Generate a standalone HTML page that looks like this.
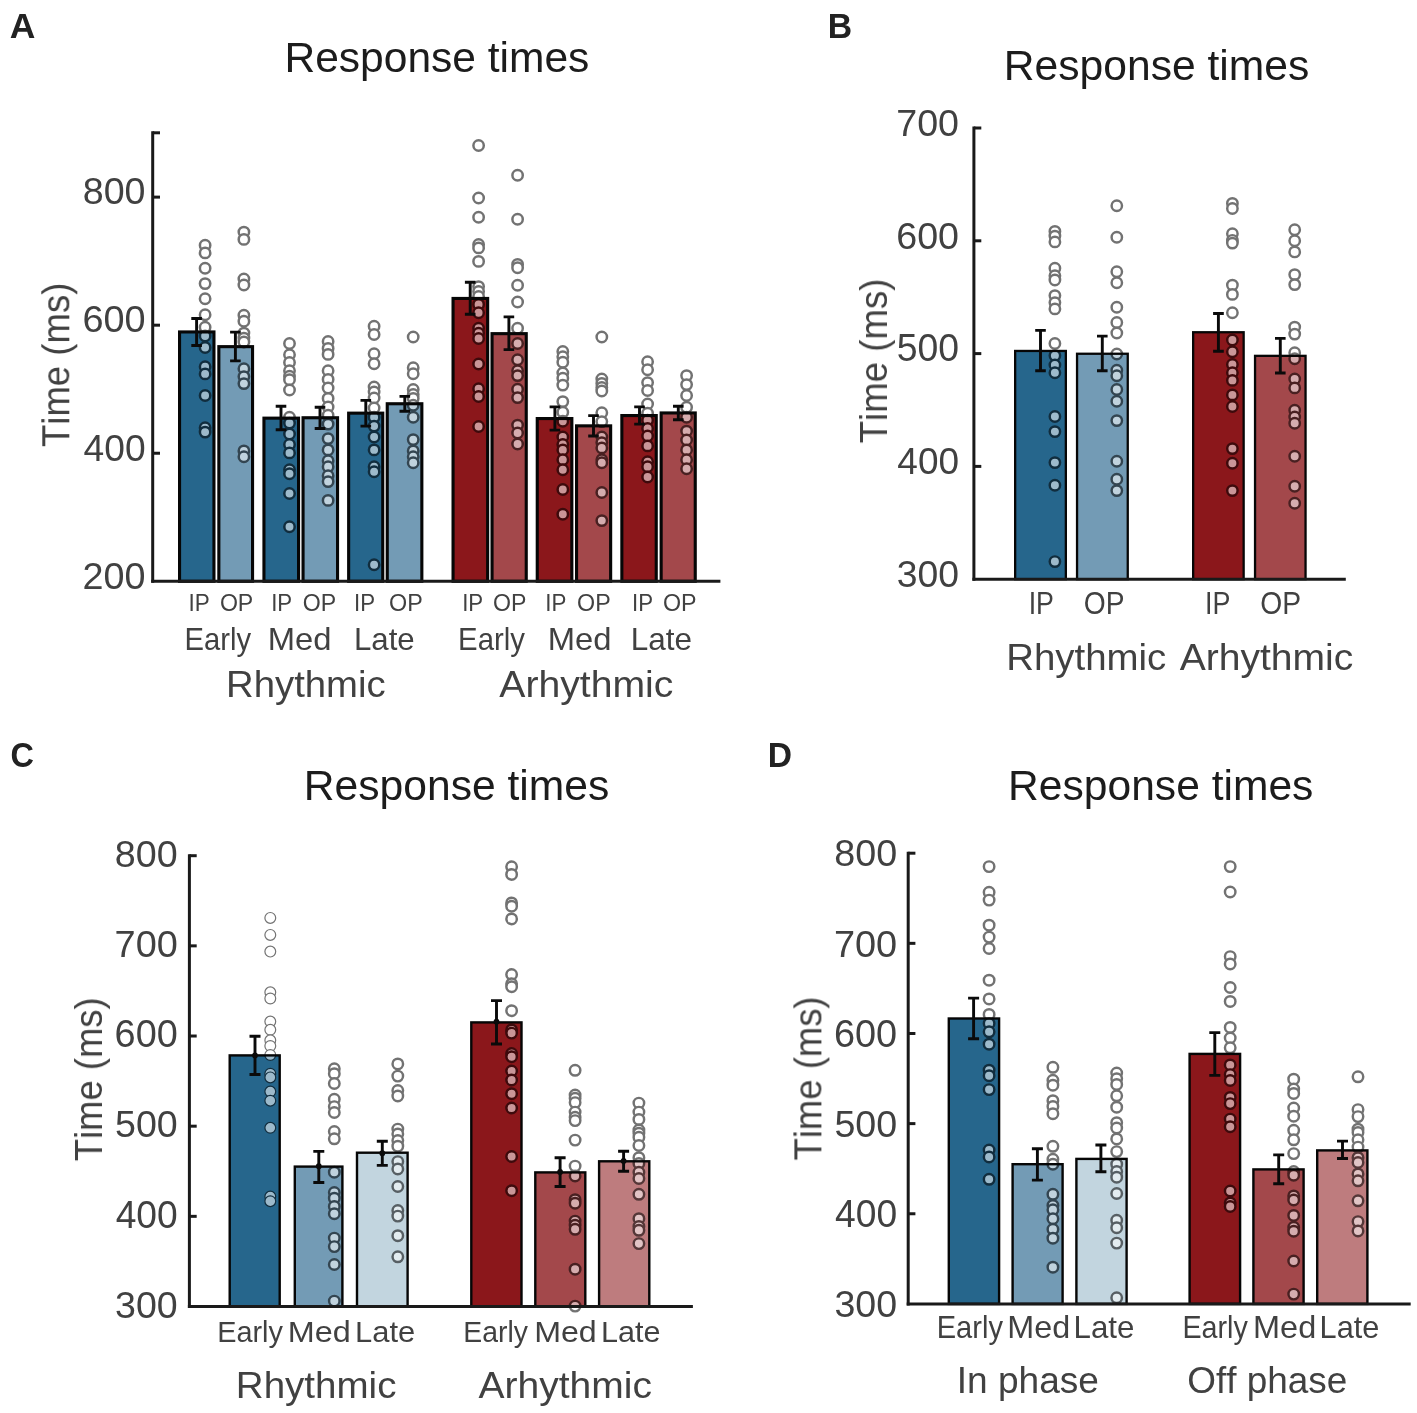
<!DOCTYPE html>
<html><head><meta charset="utf-8"><title>Response times</title>
<style>
html,body{margin:0;padding:0;background:#fff;}
svg{display:block;font-family:"Liberation Sans",sans-serif;font-kerning:none;}
</style></head>
<body>
<svg width="1417" height="1413" viewBox="0 0 1417 1413">
<rect width="1417" height="1413" fill="#fff"/>
<rect x="179.55" y="331.95" width="34.40" height="249.35" fill="#26668c"/>
<rect x="218.85" y="346.65" width="33.70" height="234.65" fill="#739bb5"/>
<rect x="263.95" y="418.15" width="34.60" height="163.15" fill="#26668c"/>
<rect x="303.05" y="417.75" width="34.50" height="163.55" fill="#739bb5"/>
<rect x="348.65" y="413.15" width="34.10" height="168.15" fill="#26668c"/>
<rect x="387.25" y="403.75" width="34.60" height="177.55" fill="#739bb5"/>
<rect x="453.05" y="298.45" width="34.60" height="282.85" fill="#8b171b"/>
<rect x="492.05" y="333.65" width="34.20" height="247.65" fill="#a3484b"/>
<rect x="537.25" y="418.55" width="34.60" height="162.75" fill="#8b171b"/>
<rect x="576.55" y="425.85" width="34.10" height="155.45" fill="#a3484b"/>
<rect x="621.85" y="415.55" width="34.40" height="165.75" fill="#8b171b"/>
<rect x="661.15" y="412.95" width="34.10" height="168.35" fill="#a3484b"/>
<g fill="#fff" stroke="#000" stroke-width="2.5" opacity="0.55"><circle cx="205.1" cy="245.3" r="5.2"/><circle cx="205.1" cy="252.9" r="5.2"/><circle cx="205.1" cy="268.3" r="5.2"/><circle cx="205.1" cy="283.6" r="5.2"/><circle cx="205.1" cy="298.8" r="5.2"/><circle cx="205.1" cy="314.7" r="5.2"/><circle cx="205.1" cy="327.2" r="5.2"/><circle cx="205.1" cy="336.0" r="5.2"/><circle cx="205.1" cy="347.5" r="5.2"/><circle cx="205.1" cy="366.7" r="5.2"/><circle cx="205.1" cy="373.9" r="5.2"/><circle cx="205.1" cy="395.5" r="5.2"/><circle cx="205.1" cy="427.7" r="5.2"/><circle cx="205.1" cy="432.1" r="5.2"/></g>
<g fill="#fff" stroke="#000" stroke-width="2.5" opacity="0.55"><circle cx="243.9" cy="232.1" r="5.2"/><circle cx="243.9" cy="239.4" r="5.2"/><circle cx="243.9" cy="279.0" r="5.2"/><circle cx="243.9" cy="285.0" r="5.2"/><circle cx="243.9" cy="315.3" r="5.2"/><circle cx="243.9" cy="321.2" r="5.2"/><circle cx="243.9" cy="333.1" r="5.2"/><circle cx="243.9" cy="338.1" r="5.2"/><circle cx="243.9" cy="342.0" r="5.2"/><circle cx="243.9" cy="368.7" r="5.2"/><circle cx="243.9" cy="376.6" r="5.2"/><circle cx="243.9" cy="383.6" r="5.2"/><circle cx="243.9" cy="450.9" r="5.2"/><circle cx="243.9" cy="456.8" r="5.2"/></g>
<g fill="#fff" stroke="#000" stroke-width="2.5" opacity="0.55"><circle cx="289.5" cy="343.5" r="5.2"/><circle cx="289.5" cy="354.8" r="5.2"/><circle cx="289.5" cy="362.5" r="5.2"/><circle cx="289.5" cy="370.7" r="5.2"/><circle cx="289.5" cy="376.2" r="5.2"/><circle cx="289.5" cy="379.7" r="5.2"/><circle cx="289.5" cy="390.0" r="5.2"/><circle cx="289.5" cy="417.2" r="5.2"/><circle cx="289.5" cy="423.1" r="5.2"/><circle cx="289.5" cy="434.0" r="5.2"/><circle cx="289.5" cy="444.5" r="5.2"/><circle cx="289.5" cy="452.9" r="5.2"/><circle cx="289.5" cy="469.7" r="5.2"/><circle cx="289.5" cy="473.7" r="5.2"/><circle cx="289.5" cy="493.5" r="5.2"/><circle cx="289.5" cy="526.8" r="5.2"/></g>
<g fill="#fff" stroke="#000" stroke-width="2.5" opacity="0.55"><circle cx="328.1" cy="341.5" r="5.2"/><circle cx="328.1" cy="348.4" r="5.2"/><circle cx="328.1" cy="354.4" r="5.2"/><circle cx="328.1" cy="370.7" r="5.2"/><circle cx="328.1" cy="379.4" r="5.2"/><circle cx="328.1" cy="388.0" r="5.2"/><circle cx="328.1" cy="398.4" r="5.2"/><circle cx="328.1" cy="407.0" r="5.2"/><circle cx="328.1" cy="415.2" r="5.2"/><circle cx="328.1" cy="424.1" r="5.2"/><circle cx="328.1" cy="438.6" r="5.2"/><circle cx="328.1" cy="449.9" r="5.2"/><circle cx="328.1" cy="460.8" r="5.2"/><circle cx="328.1" cy="466.7" r="5.2"/><circle cx="328.1" cy="475.7" r="5.2"/><circle cx="328.1" cy="481.6" r="5.2"/><circle cx="328.1" cy="500.4" r="5.2"/></g>
<g fill="#fff" stroke="#000" stroke-width="2.5" opacity="0.55"><circle cx="374.1" cy="326.2" r="5.2"/><circle cx="374.1" cy="334.5" r="5.2"/><circle cx="374.1" cy="353.8" r="5.2"/><circle cx="374.1" cy="363.7" r="5.2"/><circle cx="374.1" cy="387.0" r="5.2"/><circle cx="374.1" cy="392.0" r="5.2"/><circle cx="374.1" cy="398.0" r="5.2"/><circle cx="374.1" cy="408.0" r="5.2"/><circle cx="374.1" cy="417.2" r="5.2"/><circle cx="374.1" cy="426.1" r="5.2"/><circle cx="374.1" cy="437.0" r="5.2"/><circle cx="374.1" cy="449.9" r="5.2"/><circle cx="374.1" cy="466.7" r="5.2"/><circle cx="374.1" cy="471.7" r="5.2"/><circle cx="374.1" cy="564.8" r="5.2"/></g>
<g fill="#fff" stroke="#000" stroke-width="2.5" opacity="0.55"><circle cx="413.2" cy="337.0" r="5.2"/><circle cx="413.2" cy="367.7" r="5.2"/><circle cx="413.2" cy="373.7" r="5.2"/><circle cx="413.2" cy="389.5" r="5.2"/><circle cx="413.2" cy="394.5" r="5.2"/><circle cx="413.2" cy="398.4" r="5.2"/><circle cx="413.2" cy="405.3" r="5.2"/><circle cx="413.2" cy="417.2" r="5.2"/><circle cx="413.2" cy="439.6" r="5.2"/><circle cx="413.2" cy="450.9" r="5.2"/><circle cx="413.2" cy="456.8" r="5.2"/><circle cx="413.2" cy="462.8" r="5.2"/></g>
<g fill="#fff" stroke="#000" stroke-width="2.5" opacity="0.55"><circle cx="478.6" cy="145.5" r="5.2"/><circle cx="478.6" cy="198.0" r="5.2"/><circle cx="478.6" cy="217.2" r="5.2"/><circle cx="478.6" cy="244.5" r="5.2"/><circle cx="478.6" cy="247.9" r="5.2"/><circle cx="478.6" cy="261.4" r="5.2"/><circle cx="478.6" cy="286.6" r="5.2"/><circle cx="478.6" cy="291.5" r="5.2"/><circle cx="478.6" cy="296.5" r="5.2"/><circle cx="478.6" cy="304.4" r="5.2"/><circle cx="478.6" cy="312.7" r="5.2"/><circle cx="478.6" cy="328.2" r="5.2"/><circle cx="478.6" cy="333.3" r="5.2"/><circle cx="478.6" cy="338.5" r="5.2"/><circle cx="478.6" cy="364.0" r="5.2"/><circle cx="478.6" cy="388.8" r="5.2"/><circle cx="478.6" cy="396.5" r="5.2"/><circle cx="478.6" cy="426.5" r="5.2"/></g>
<g fill="#fff" stroke="#000" stroke-width="2.5" opacity="0.55"><circle cx="517.6" cy="175.2" r="5.2"/><circle cx="517.6" cy="219.2" r="5.2"/><circle cx="517.6" cy="264.4" r="5.2"/><circle cx="517.6" cy="267.7" r="5.2"/><circle cx="517.6" cy="285.2" r="5.2"/><circle cx="517.6" cy="302.0" r="5.2"/><circle cx="517.6" cy="328.2" r="5.2"/><circle cx="517.6" cy="343.5" r="5.2"/><circle cx="517.6" cy="359.8" r="5.2"/><circle cx="517.6" cy="370.7" r="5.2"/><circle cx="517.6" cy="375.6" r="5.2"/><circle cx="517.6" cy="389.2" r="5.2"/><circle cx="517.6" cy="397.6" r="5.2"/><circle cx="517.6" cy="425.1" r="5.2"/><circle cx="517.6" cy="433.0" r="5.2"/><circle cx="517.6" cy="444.0" r="5.2"/></g>
<g fill="#fff" stroke="#000" stroke-width="2.5" opacity="0.55"><circle cx="562.8" cy="351.5" r="5.2"/><circle cx="562.8" cy="356.8" r="5.2"/><circle cx="562.8" cy="362.2" r="5.2"/><circle cx="562.8" cy="373.0" r="5.2"/><circle cx="562.8" cy="378.2" r="5.2"/><circle cx="562.8" cy="385.1" r="5.2"/><circle cx="562.8" cy="401.6" r="5.2"/><circle cx="562.8" cy="412.2" r="5.2"/><circle cx="562.8" cy="421.2" r="5.2"/><circle cx="562.8" cy="437.0" r="5.2"/><circle cx="562.8" cy="444.5" r="5.2"/><circle cx="562.8" cy="449.9" r="5.2"/><circle cx="562.8" cy="459.8" r="5.2"/><circle cx="562.8" cy="469.7" r="5.2"/><circle cx="562.8" cy="489.5" r="5.2"/><circle cx="562.8" cy="514.3" r="5.2"/></g>
<g fill="#fff" stroke="#000" stroke-width="2.5" opacity="0.55"><circle cx="601.8" cy="337.0" r="5.2"/><circle cx="601.8" cy="379.0" r="5.2"/><circle cx="601.8" cy="383.4" r="5.2"/><circle cx="601.8" cy="387.5" r="5.2"/><circle cx="601.8" cy="391.0" r="5.2"/><circle cx="601.8" cy="412.8" r="5.2"/><circle cx="601.8" cy="421.6" r="5.2"/><circle cx="601.8" cy="437.0" r="5.2"/><circle cx="601.8" cy="442.6" r="5.2"/><circle cx="601.8" cy="447.9" r="5.2"/><circle cx="601.8" cy="459.8" r="5.2"/><circle cx="601.8" cy="462.8" r="5.2"/><circle cx="601.8" cy="492.5" r="5.2"/><circle cx="601.8" cy="520.6" r="5.2"/></g>
<g fill="#fff" stroke="#000" stroke-width="2.5" opacity="0.55"><circle cx="647.6" cy="361.8" r="5.2"/><circle cx="647.6" cy="369.7" r="5.2"/><circle cx="647.6" cy="382.6" r="5.2"/><circle cx="647.6" cy="390.5" r="5.2"/><circle cx="647.6" cy="404.0" r="5.2"/><circle cx="647.6" cy="413.2" r="5.2"/><circle cx="647.6" cy="420.2" r="5.2"/><circle cx="647.6" cy="428.5" r="5.2"/><circle cx="647.6" cy="436.0" r="5.2"/><circle cx="647.6" cy="445.9" r="5.2"/><circle cx="647.6" cy="461.8" r="5.2"/><circle cx="647.6" cy="466.7" r="5.2"/><circle cx="647.6" cy="477.0" r="5.2"/></g>
<g fill="#fff" stroke="#000" stroke-width="2.5" opacity="0.55"><circle cx="686.6" cy="375.6" r="5.2"/><circle cx="686.6" cy="384.6" r="5.2"/><circle cx="686.6" cy="395.5" r="5.2"/><circle cx="686.6" cy="407.3" r="5.2"/><circle cx="686.6" cy="417.2" r="5.2"/><circle cx="686.6" cy="431.1" r="5.2"/><circle cx="686.6" cy="440.0" r="5.2"/><circle cx="686.6" cy="449.9" r="5.2"/><circle cx="686.6" cy="459.8" r="5.2"/><circle cx="686.6" cy="468.7" r="5.2"/></g>
<rect x="179.55" y="331.95" width="34.40" height="249.35" fill="none" stroke="#060606" stroke-width="3.1"/>
<rect x="218.85" y="346.65" width="33.70" height="234.65" fill="none" stroke="#060606" stroke-width="3.1"/>
<rect x="263.95" y="418.15" width="34.60" height="163.15" fill="none" stroke="#060606" stroke-width="3.1"/>
<rect x="303.05" y="417.75" width="34.50" height="163.55" fill="none" stroke="#060606" stroke-width="3.1"/>
<rect x="348.65" y="413.15" width="34.10" height="168.15" fill="none" stroke="#060606" stroke-width="3.1"/>
<rect x="387.25" y="403.75" width="34.60" height="177.55" fill="none" stroke="#060606" stroke-width="3.1"/>
<rect x="453.05" y="298.45" width="34.60" height="282.85" fill="none" stroke="#060606" stroke-width="3.1"/>
<rect x="492.05" y="333.65" width="34.20" height="247.65" fill="none" stroke="#060606" stroke-width="3.1"/>
<rect x="537.25" y="418.55" width="34.60" height="162.75" fill="none" stroke="#060606" stroke-width="3.1"/>
<rect x="576.55" y="425.85" width="34.10" height="155.45" fill="none" stroke="#060606" stroke-width="3.1"/>
<rect x="621.85" y="415.55" width="34.40" height="165.75" fill="none" stroke="#060606" stroke-width="3.1"/>
<rect x="661.15" y="412.95" width="34.10" height="168.35" fill="none" stroke="#060606" stroke-width="3.1"/>
<path d="M196.6 318.5V345.5M191.3 318.5H201.9M191.3 345.5H201.9" stroke="#0a0a0a" stroke-width="2.9" fill="none"/>
<path d="M235.4 332.1V360.9M230.1 332.1H240.7M230.1 360.9H240.7" stroke="#0a0a0a" stroke-width="2.9" fill="none"/>
<path d="M281.0 406.3V429.7M275.7 406.3H286.3M275.7 429.7H286.3" stroke="#0a0a0a" stroke-width="2.9" fill="none"/>
<path d="M320.0 407.3V428.5M314.7 407.3H325.3M314.7 428.5H325.3" stroke="#0a0a0a" stroke-width="2.9" fill="none"/>
<path d="M365.8 400.4V426.1M360.5 400.4H371.1M360.5 426.1H371.1" stroke="#0a0a0a" stroke-width="2.9" fill="none"/>
<path d="M404.8 396.4V411.3M399.5 396.4H410.1M399.5 411.3H410.1" stroke="#0a0a0a" stroke-width="2.9" fill="none"/>
<path d="M470.2 282.2V314.3M464.9 282.2H475.5M464.9 314.3H475.5" stroke="#0a0a0a" stroke-width="2.9" fill="none"/>
<path d="M508.9 316.9V349.6M503.6 316.9H514.2M503.6 349.6H514.2" stroke="#0a0a0a" stroke-width="2.9" fill="none"/>
<path d="M554.9 406.9V430.1M549.6 406.9H560.2M549.6 430.1H560.2" stroke="#0a0a0a" stroke-width="2.9" fill="none"/>
<path d="M593.5 415.6V436.0M588.2 415.6H598.8M588.2 436.0H598.8" stroke="#0a0a0a" stroke-width="2.9" fill="none"/>
<path d="M639.5 406.9V424.1M634.2 406.9H644.8M634.2 424.1H644.8" stroke="#0a0a0a" stroke-width="2.9" fill="none"/>
<path d="M678.3 406.3V419.8M673.0 406.3H683.6M673.0 419.8H683.6" stroke="#0a0a0a" stroke-width="2.9" fill="none"/>
<path d="M152.70 131.30L152.70 582.80" stroke="#1a1a1a" stroke-width="3.0" fill="none"/>
<path d="M151.20 581.30L720.40 581.30" stroke="#1a1a1a" stroke-width="3.0" fill="none"/>
<path d="M152.70 453.24L160.00 453.24" stroke="#1a1a1a" stroke-width="3.0" fill="none"/>
<path d="M152.70 325.18L160.00 325.18" stroke="#1a1a1a" stroke-width="3.0" fill="none"/>
<path d="M152.70 197.12L160.00 197.12" stroke="#1a1a1a" stroke-width="3.0" fill="none"/>
<path d="M152.70 132.80L160.00 132.80" stroke="#1a1a1a" stroke-width="3.0" fill="none"/>
<rect x="1015.15" y="350.95" width="50.70" height="228.25" fill="#26668c"/>
<rect x="1077.05" y="353.75" width="50.70" height="225.45" fill="#739bb5"/>
<rect x="1193.15" y="332.25" width="50.50" height="246.95" fill="#8b171b"/>
<rect x="1255.05" y="355.85" width="50.50" height="223.35" fill="#a3484b"/>
<g fill="#fff" stroke="#000" stroke-width="2.45" opacity="0.55"><circle cx="1054.9" cy="231.4" r="5.2"/><circle cx="1054.9" cy="236.1" r="5.2"/><circle cx="1054.9" cy="241.9" r="5.2"/><circle cx="1054.9" cy="268.3" r="5.2"/><circle cx="1054.9" cy="275.8" r="5.2"/><circle cx="1054.9" cy="280.0" r="5.2"/><circle cx="1054.9" cy="295.6" r="5.2"/><circle cx="1054.9" cy="302.6" r="5.2"/><circle cx="1054.9" cy="308.9" r="5.2"/><circle cx="1054.9" cy="343.5" r="5.2"/><circle cx="1054.9" cy="355.6" r="5.2"/><circle cx="1054.9" cy="365.0" r="5.2"/><circle cx="1054.9" cy="372.7" r="5.2"/><circle cx="1054.9" cy="416.5" r="5.2"/><circle cx="1054.9" cy="431.6" r="5.2"/><circle cx="1054.9" cy="462.6" r="5.2"/><circle cx="1054.9" cy="485.2" r="5.2"/><circle cx="1054.9" cy="561.6" r="5.2"/></g>
<g fill="#fff" stroke="#000" stroke-width="2.45" opacity="0.55"><circle cx="1116.8" cy="205.7" r="5.2"/><circle cx="1116.8" cy="237.2" r="5.2"/><circle cx="1116.8" cy="271.8" r="5.2"/><circle cx="1116.8" cy="282.8" r="5.2"/><circle cx="1116.8" cy="307.3" r="5.2"/><circle cx="1116.8" cy="322.5" r="5.2"/><circle cx="1116.8" cy="333.0" r="5.2"/><circle cx="1116.8" cy="354.0" r="5.2"/><circle cx="1116.8" cy="370.3" r="5.2"/><circle cx="1116.8" cy="375.7" r="5.2"/><circle cx="1116.8" cy="389.5" r="5.2"/><circle cx="1116.8" cy="401.2" r="5.2"/><circle cx="1116.8" cy="420.6" r="5.2"/><circle cx="1116.8" cy="461.2" r="5.2"/><circle cx="1116.8" cy="479.2" r="5.2"/><circle cx="1116.8" cy="490.6" r="5.2"/></g>
<g fill="#fff" stroke="#000" stroke-width="2.45" opacity="0.55"><circle cx="1232.4" cy="203.4" r="5.2"/><circle cx="1232.4" cy="208.5" r="5.2"/><circle cx="1232.4" cy="233.7" r="5.2"/><circle cx="1232.4" cy="240.3" r="5.2"/><circle cx="1232.4" cy="243.1" r="5.2"/><circle cx="1232.4" cy="285.1" r="5.2"/><circle cx="1232.4" cy="294.4" r="5.2"/><circle cx="1232.4" cy="312.7" r="5.2"/><circle cx="1232.4" cy="340.0" r="5.2"/><circle cx="1232.4" cy="351.7" r="5.2"/><circle cx="1232.4" cy="364.5" r="5.2"/><circle cx="1232.4" cy="372.7" r="5.2"/><circle cx="1232.4" cy="380.4" r="5.2"/><circle cx="1232.4" cy="394.9" r="5.2"/><circle cx="1232.4" cy="406.5" r="5.2"/><circle cx="1232.4" cy="448.6" r="5.2"/><circle cx="1232.4" cy="463.2" r="5.2"/><circle cx="1232.4" cy="490.6" r="5.2"/></g>
<g fill="#fff" stroke="#000" stroke-width="2.45" opacity="0.55"><circle cx="1294.7" cy="229.7" r="5.2"/><circle cx="1294.7" cy="240.7" r="5.2"/><circle cx="1294.7" cy="251.9" r="5.2"/><circle cx="1294.7" cy="274.6" r="5.2"/><circle cx="1294.7" cy="284.6" r="5.2"/><circle cx="1294.7" cy="327.1" r="5.2"/><circle cx="1294.7" cy="334.1" r="5.2"/><circle cx="1294.7" cy="352.8" r="5.2"/><circle cx="1294.7" cy="358.7" r="5.2"/><circle cx="1294.7" cy="379.0" r="5.2"/><circle cx="1294.7" cy="387.9" r="5.2"/><circle cx="1294.7" cy="410.2" r="5.2"/><circle cx="1294.7" cy="417.0" r="5.2"/><circle cx="1294.7" cy="423.2" r="5.2"/><circle cx="1294.7" cy="456.2" r="5.2"/><circle cx="1294.7" cy="486.2" r="5.2"/><circle cx="1294.7" cy="503.3" r="5.2"/></g>
<rect x="1015.15" y="350.95" width="50.70" height="228.25" fill="none" stroke="#060606" stroke-width="2.3"/>
<rect x="1077.05" y="353.75" width="50.70" height="225.45" fill="none" stroke="#060606" stroke-width="2.3"/>
<rect x="1193.15" y="332.25" width="50.50" height="246.95" fill="none" stroke="#060606" stroke-width="2.3"/>
<rect x="1255.05" y="355.85" width="50.50" height="223.35" fill="none" stroke="#060606" stroke-width="2.3"/>
<path d="M1040.5 330.4V370.7M1035.2 330.4H1045.8M1035.2 370.7H1045.8" stroke="#0a0a0a" stroke-width="2.9" fill="none"/>
<path d="M1102.3 336.1V370.7M1097.0 336.1H1107.6M1097.0 370.7H1107.6" stroke="#0a0a0a" stroke-width="2.9" fill="none"/>
<path d="M1218.4 313.5V351.3M1213.1 313.5H1223.8M1213.1 351.3H1223.8" stroke="#0a0a0a" stroke-width="2.9" fill="none"/>
<path d="M1280.3 338.4V373.0M1275.0 338.4H1285.6M1275.0 373.0H1285.6" stroke="#0a0a0a" stroke-width="2.9" fill="none"/>
<path d="M973.90 126.50L973.90 580.70" stroke="#1a1a1a" stroke-width="3.0" fill="none"/>
<path d="M972.40 579.20L1345.80 579.20" stroke="#1a1a1a" stroke-width="3.0" fill="none"/>
<path d="M973.90 466.40L981.30 466.40" stroke="#1a1a1a" stroke-width="3.0" fill="none"/>
<path d="M973.90 353.60L981.30 353.60" stroke="#1a1a1a" stroke-width="3.0" fill="none"/>
<path d="M973.90 240.80L981.30 240.80" stroke="#1a1a1a" stroke-width="3.0" fill="none"/>
<path d="M973.90 128.00L981.30 128.00" stroke="#1a1a1a" stroke-width="3.0" fill="none"/>
<rect x="229.70" y="1055.40" width="50.00" height="251.10" fill="#26668c"/>
<rect x="294.80" y="1166.60" width="47.60" height="139.90" fill="#739bb5"/>
<rect x="357.00" y="1152.70" width="50.60" height="153.80" fill="#c2d5df"/>
<rect x="471.30" y="1022.40" width="50.20" height="284.10" fill="#8b171b"/>
<rect x="535.30" y="1172.40" width="50.00" height="134.10" fill="#a3484b"/>
<rect x="599.10" y="1161.30" width="50.20" height="145.20" fill="#be7c7e"/>
<g fill="#fff" stroke="#000" stroke-width="1.2" opacity="0.55"><circle cx="270.3" cy="917.9" r="5.4"/><circle cx="270.3" cy="934.9" r="5.4"/><circle cx="270.3" cy="951.6" r="5.4"/><circle cx="270.3" cy="992.3" r="5.4"/><circle cx="270.3" cy="998.5" r="5.4"/><circle cx="270.3" cy="1021.6" r="5.4"/><circle cx="270.3" cy="1029.8" r="5.4"/><circle cx="270.3" cy="1040.3" r="5.4"/><circle cx="270.3" cy="1046.0" r="5.4"/><circle cx="270.3" cy="1055.0" r="5.4"/><circle cx="270.3" cy="1073.7" r="5.4"/><circle cx="270.3" cy="1077.4" r="5.4"/><circle cx="270.3" cy="1091.6" r="5.4"/><circle cx="270.3" cy="1100.7" r="5.4"/><circle cx="270.3" cy="1127.8" r="5.4"/><circle cx="270.3" cy="1196.6" r="5.4"/><circle cx="270.3" cy="1201.2" r="5.4"/></g>
<g fill="#fff" stroke="#000" stroke-width="2.45" opacity="0.55"><circle cx="334.3" cy="1068.8" r="5.25"/><circle cx="334.3" cy="1073.7" r="5.25"/><circle cx="334.3" cy="1083.5" r="5.25"/><circle cx="334.3" cy="1099.3" r="5.25"/><circle cx="334.3" cy="1106.6" r="5.25"/><circle cx="334.3" cy="1112.5" r="5.25"/><circle cx="334.3" cy="1131.5" r="5.25"/><circle cx="334.3" cy="1138.8" r="5.25"/><circle cx="334.3" cy="1172.2" r="5.25"/><circle cx="334.3" cy="1192.5" r="5.25"/><circle cx="334.3" cy="1198.2" r="5.25"/><circle cx="334.3" cy="1206.4" r="5.25"/><circle cx="334.3" cy="1213.7" r="5.25"/><circle cx="334.3" cy="1238.1" r="5.25"/><circle cx="334.3" cy="1246.6" r="5.25"/><circle cx="334.3" cy="1264.5" r="5.25"/><circle cx="334.3" cy="1301.1" r="5.25"/></g>
<g fill="#fff" stroke="#000" stroke-width="2.45" opacity="0.55"><circle cx="397.8" cy="1063.9" r="5.25"/><circle cx="397.8" cy="1076.1" r="5.25"/><circle cx="397.8" cy="1090.5" r="5.25"/><circle cx="397.8" cy="1096.0" r="5.25"/><circle cx="397.8" cy="1129.1" r="5.25"/><circle cx="397.8" cy="1133.9" r="5.25"/><circle cx="397.8" cy="1140.5" r="5.25"/><circle cx="397.8" cy="1146.2" r="5.25"/><circle cx="397.8" cy="1161.6" r="5.25"/><circle cx="397.8" cy="1168.9" r="5.25"/><circle cx="397.8" cy="1186.5" r="5.25"/><circle cx="397.8" cy="1210.5" r="5.25"/><circle cx="397.8" cy="1216.1" r="5.25"/><circle cx="397.8" cy="1235.7" r="5.25"/><circle cx="397.8" cy="1256.8" r="5.25"/></g>
<g fill="#fff" stroke="#000" stroke-width="2.45" opacity="0.55"><circle cx="511.6" cy="866.8" r="5.25"/><circle cx="511.6" cy="874.4" r="5.25"/><circle cx="511.6" cy="902.9" r="5.25"/><circle cx="511.6" cy="906.2" r="5.25"/><circle cx="511.6" cy="918.9" r="5.25"/><circle cx="511.6" cy="974.5" r="5.25"/><circle cx="511.6" cy="983.8" r="5.25"/><circle cx="511.6" cy="986.7" r="5.25"/><circle cx="511.6" cy="1010.7" r="5.25"/><circle cx="511.6" cy="1029.9" r="5.25"/><circle cx="511.6" cy="1033.1" r="5.25"/><circle cx="511.6" cy="1053.5" r="5.25"/><circle cx="511.6" cy="1056.7" r="5.25"/><circle cx="511.6" cy="1071.0" r="5.25"/><circle cx="511.6" cy="1080.0" r="5.25"/><circle cx="511.6" cy="1093.7" r="5.25"/><circle cx="511.6" cy="1108.0" r="5.25"/><circle cx="511.6" cy="1156.5" r="5.25"/><circle cx="511.6" cy="1190.7" r="5.25"/></g>
<g fill="#fff" stroke="#000" stroke-width="2.45" opacity="0.55"><circle cx="575.1" cy="1070.3" r="5.25"/><circle cx="575.1" cy="1095.0" r="5.25"/><circle cx="575.1" cy="1098.3" r="5.25"/><circle cx="575.1" cy="1102.6" r="5.25"/><circle cx="575.1" cy="1112.1" r="5.25"/><circle cx="575.1" cy="1117.3" r="5.25"/><circle cx="575.1" cy="1120.6" r="5.25"/><circle cx="575.1" cy="1140.1" r="5.25"/><circle cx="575.1" cy="1166.1" r="5.25"/><circle cx="575.1" cy="1175.9" r="5.25"/><circle cx="575.1" cy="1199.7" r="5.25"/><circle cx="575.1" cy="1203.2" r="5.25"/><circle cx="575.1" cy="1221.1" r="5.25"/><circle cx="575.1" cy="1225.2" r="5.25"/><circle cx="575.1" cy="1229.3" r="5.25"/><circle cx="575.1" cy="1269.2" r="5.25"/><circle cx="575.1" cy="1306.1" r="5.25"/></g>
<g fill="#fff" stroke="#000" stroke-width="2.45" opacity="0.55"><circle cx="638.9" cy="1103.1" r="5.25"/><circle cx="638.9" cy="1112.1" r="5.25"/><circle cx="638.9" cy="1119.4" r="5.25"/><circle cx="638.9" cy="1130.0" r="5.25"/><circle cx="638.9" cy="1133.2" r="5.25"/><circle cx="638.9" cy="1137.3" r="5.25"/><circle cx="638.9" cy="1145.5" r="5.25"/><circle cx="638.9" cy="1157.7" r="5.25"/><circle cx="638.9" cy="1163.4" r="5.25"/><circle cx="638.9" cy="1172.3" r="5.25"/><circle cx="638.9" cy="1178.5" r="5.25"/><circle cx="638.9" cy="1194.3" r="5.25"/><circle cx="638.9" cy="1218.7" r="5.25"/><circle cx="638.9" cy="1226.4" r="5.25"/><circle cx="638.9" cy="1230.3" r="5.25"/><circle cx="638.9" cy="1243.6" r="5.25"/></g>
<rect x="229.70" y="1055.40" width="50.00" height="251.10" fill="none" stroke="#060606" stroke-width="2.4"/>
<rect x="294.80" y="1166.60" width="47.60" height="139.90" fill="none" stroke="#060606" stroke-width="2.4"/>
<rect x="357.00" y="1152.70" width="50.60" height="153.80" fill="none" stroke="#060606" stroke-width="2.4"/>
<rect x="471.30" y="1022.40" width="50.20" height="284.10" fill="none" stroke="#060606" stroke-width="2.4"/>
<rect x="535.30" y="1172.40" width="50.00" height="134.10" fill="none" stroke="#060606" stroke-width="2.4"/>
<rect x="599.10" y="1161.30" width="50.20" height="145.20" fill="none" stroke="#060606" stroke-width="2.4"/>
<path d="M255.0 1036.3V1074.5M249.5 1036.3H260.5M249.5 1074.5H260.5" stroke="#0a0a0a" stroke-width="2.9" fill="none"/>
<circle cx="255.0" cy="1055.5" r="2.9" fill="#0a0a0a"/>
<path d="M318.8 1151.4V1182.5M313.3 1151.4H324.3M313.3 1182.5H324.3" stroke="#0a0a0a" stroke-width="2.9" fill="none"/>
<circle cx="318.8" cy="1166.2" r="2.9" fill="#0a0a0a"/>
<path d="M382.3 1141.3V1165.4M376.8 1141.3H387.8M376.8 1165.4H387.8" stroke="#0a0a0a" stroke-width="2.9" fill="none"/>
<circle cx="382.3" cy="1153.2" r="2.9" fill="#0a0a0a"/>
<path d="M496.5 1000.6V1044.0M491.0 1000.6H502.0M491.0 1044.0H502.0" stroke="#0a0a0a" stroke-width="2.9" fill="none"/>
<circle cx="496.5" cy="1021.7" r="2.9" fill="#0a0a0a"/>
<path d="M560.1 1157.7V1186.5M554.6 1157.7H565.6M554.6 1186.5H565.6" stroke="#0a0a0a" stroke-width="2.9" fill="none"/>
<circle cx="560.1" cy="1172.0" r="2.9" fill="#0a0a0a"/>
<path d="M623.6 1151.2V1171.2M618.1 1151.2H629.1M618.1 1171.2H629.1" stroke="#0a0a0a" stroke-width="2.9" fill="none"/>
<circle cx="623.6" cy="1160.9" r="2.9" fill="#0a0a0a"/>
<path d="M189.40 854.20L189.40 1308.00" stroke="#1a1a1a" stroke-width="3.0" fill="none"/>
<path d="M187.90 1306.50L692.90 1306.50" stroke="#1a1a1a" stroke-width="3.0" fill="none"/>
<path d="M189.40 1216.34L196.70 1216.34" stroke="#1a1a1a" stroke-width="3.0" fill="none"/>
<path d="M189.40 1126.18L196.70 1126.18" stroke="#1a1a1a" stroke-width="3.0" fill="none"/>
<path d="M189.40 1036.02L196.70 1036.02" stroke="#1a1a1a" stroke-width="3.0" fill="none"/>
<path d="M189.40 945.86L196.70 945.86" stroke="#1a1a1a" stroke-width="3.0" fill="none"/>
<path d="M189.40 855.70L196.70 855.70" stroke="#1a1a1a" stroke-width="3.0" fill="none"/>
<rect x="948.80" y="1018.50" width="50.30" height="285.40" fill="#26668c"/>
<rect x="1012.60" y="1164.20" width="50.00" height="139.70" fill="#739bb5"/>
<rect x="1076.40" y="1158.90" width="50.20" height="145.00" fill="#c2d5df"/>
<rect x="1189.60" y="1053.90" width="50.50" height="250.00" fill="#8b171b"/>
<rect x="1253.40" y="1169.40" width="50.20" height="134.50" fill="#a3484b"/>
<rect x="1317.20" y="1150.40" width="50.20" height="153.50" fill="#be7c7e"/>
<g fill="#fff" stroke="#000" stroke-width="2.45" opacity="0.55"><circle cx="989.1" cy="866.6" r="5.25"/><circle cx="989.1" cy="892.3" r="5.25"/><circle cx="989.1" cy="900.1" r="5.25"/><circle cx="989.1" cy="925.2" r="5.25"/><circle cx="989.1" cy="937.1" r="5.25"/><circle cx="989.1" cy="948.5" r="5.25"/><circle cx="989.1" cy="980.2" r="5.25"/><circle cx="989.1" cy="998.9" r="5.25"/><circle cx="989.1" cy="1014.4" r="5.25"/><circle cx="989.1" cy="1023.4" r="5.25"/><circle cx="989.1" cy="1031.8" r="5.25"/><circle cx="989.1" cy="1044.2" r="5.25"/><circle cx="989.1" cy="1070.2" r="5.25"/><circle cx="989.1" cy="1075.7" r="5.25"/><circle cx="989.1" cy="1089.6" r="5.25"/><circle cx="989.1" cy="1150.0" r="5.25"/><circle cx="989.1" cy="1156.9" r="5.25"/><circle cx="989.1" cy="1179.3" r="5.25"/></g>
<g fill="#fff" stroke="#000" stroke-width="2.45" opacity="0.55"><circle cx="1052.9" cy="1067.3" r="5.25"/><circle cx="1052.9" cy="1080.3" r="5.25"/><circle cx="1052.9" cy="1085.2" r="5.25"/><circle cx="1052.9" cy="1100.7" r="5.25"/><circle cx="1052.9" cy="1106.4" r="5.25"/><circle cx="1052.9" cy="1113.7" r="5.25"/><circle cx="1052.9" cy="1146.3" r="5.25"/><circle cx="1052.9" cy="1159.3" r="5.25"/><circle cx="1052.9" cy="1164.2" r="5.25"/><circle cx="1052.9" cy="1194.3" r="5.25"/><circle cx="1052.9" cy="1205.4" r="5.25"/><circle cx="1052.9" cy="1209.8" r="5.25"/><circle cx="1052.9" cy="1218.7" r="5.25"/><circle cx="1052.9" cy="1229.3" r="5.25"/><circle cx="1052.9" cy="1238.2" r="5.25"/><circle cx="1052.9" cy="1267.2" r="5.25"/></g>
<g fill="#fff" stroke="#000" stroke-width="2.45" opacity="0.55"><circle cx="1116.7" cy="1073.0" r="5.25"/><circle cx="1116.7" cy="1078.7" r="5.25"/><circle cx="1116.7" cy="1084.4" r="5.25"/><circle cx="1116.7" cy="1095.8" r="5.25"/><circle cx="1116.7" cy="1107.2" r="5.25"/><circle cx="1116.7" cy="1122.7" r="5.25"/><circle cx="1116.7" cy="1128.0" r="5.25"/><circle cx="1116.7" cy="1138.9" r="5.25"/><circle cx="1116.7" cy="1151.6" r="5.25"/><circle cx="1116.7" cy="1164.2" r="5.25"/><circle cx="1116.7" cy="1171.5" r="5.25"/><circle cx="1116.7" cy="1177.2" r="5.25"/><circle cx="1116.7" cy="1193.5" r="5.25"/><circle cx="1116.7" cy="1220.3" r="5.25"/><circle cx="1116.7" cy="1227.7" r="5.25"/><circle cx="1116.7" cy="1243.1" r="5.25"/><circle cx="1116.7" cy="1297.8" r="5.25"/></g>
<g fill="#fff" stroke="#000" stroke-width="2.45" opacity="0.55"><circle cx="1230.2" cy="866.6" r="5.25"/><circle cx="1230.2" cy="892.0" r="5.25"/><circle cx="1230.2" cy="956.6" r="5.25"/><circle cx="1230.2" cy="963.9" r="5.25"/><circle cx="1230.2" cy="987.5" r="5.25"/><circle cx="1230.2" cy="1001.4" r="5.25"/><circle cx="1230.2" cy="1027.4" r="5.25"/><circle cx="1230.2" cy="1038.0" r="5.25"/><circle cx="1230.2" cy="1047.8" r="5.25"/><circle cx="1230.2" cy="1064.9" r="5.25"/><circle cx="1230.2" cy="1074.6" r="5.25"/><circle cx="1230.2" cy="1080.5" r="5.25"/><circle cx="1230.2" cy="1097.4" r="5.25"/><circle cx="1230.2" cy="1103.6" r="5.25"/><circle cx="1230.2" cy="1119.1" r="5.25"/><circle cx="1230.2" cy="1126.7" r="5.25"/><circle cx="1230.2" cy="1191.0" r="5.25"/><circle cx="1230.2" cy="1202.9" r="5.25"/><circle cx="1230.2" cy="1206.5" r="5.25"/></g>
<g fill="#fff" stroke="#000" stroke-width="2.45" opacity="0.55"><circle cx="1293.7" cy="1079.2" r="5.25"/><circle cx="1293.7" cy="1089.0" r="5.25"/><circle cx="1293.7" cy="1093.4" r="5.25"/><circle cx="1293.7" cy="1108.0" r="5.25"/><circle cx="1293.7" cy="1116.2" r="5.25"/><circle cx="1293.7" cy="1130.3" r="5.25"/><circle cx="1293.7" cy="1139.8" r="5.25"/><circle cx="1293.7" cy="1153.6" r="5.25"/><circle cx="1293.7" cy="1171.5" r="5.25"/><circle cx="1293.7" cy="1175.2" r="5.25"/><circle cx="1293.7" cy="1195.9" r="5.25"/><circle cx="1293.7" cy="1200.0" r="5.25"/><circle cx="1293.7" cy="1215.4" r="5.25"/><circle cx="1293.7" cy="1227.3" r="5.25"/><circle cx="1293.7" cy="1231.2" r="5.25"/><circle cx="1293.7" cy="1261.0" r="5.25"/><circle cx="1293.7" cy="1294.1" r="5.25"/></g>
<g fill="#fff" stroke="#000" stroke-width="2.45" opacity="0.55"><circle cx="1358.0" cy="1076.8" r="5.25"/><circle cx="1358.0" cy="1109.6" r="5.25"/><circle cx="1358.0" cy="1116.6" r="5.25"/><circle cx="1358.0" cy="1129.2" r="5.25"/><circle cx="1358.0" cy="1132.4" r="5.25"/><circle cx="1358.0" cy="1139.8" r="5.25"/><circle cx="1358.0" cy="1147.1" r="5.25"/><circle cx="1358.0" cy="1157.7" r="5.25"/><circle cx="1358.0" cy="1162.5" r="5.25"/><circle cx="1358.0" cy="1173.9" r="5.25"/><circle cx="1358.0" cy="1180.8" r="5.25"/><circle cx="1358.0" cy="1200.8" r="5.25"/><circle cx="1358.0" cy="1221.6" r="5.25"/><circle cx="1358.0" cy="1230.9" r="5.25"/></g>
<rect x="948.80" y="1018.50" width="50.30" height="285.40" fill="none" stroke="#060606" stroke-width="2.4"/>
<rect x="1012.60" y="1164.20" width="50.00" height="139.70" fill="none" stroke="#060606" stroke-width="2.4"/>
<rect x="1076.40" y="1158.90" width="50.20" height="145.00" fill="none" stroke="#060606" stroke-width="2.4"/>
<rect x="1189.60" y="1053.90" width="50.50" height="250.00" fill="none" stroke="#060606" stroke-width="2.4"/>
<rect x="1253.40" y="1169.40" width="50.20" height="134.50" fill="none" stroke="#060606" stroke-width="2.4"/>
<rect x="1317.20" y="1150.40" width="50.20" height="153.50" fill="none" stroke="#060606" stroke-width="2.4"/>
<path d="M973.6 998.1V1038.8M968.1 998.1H979.1M968.1 1038.8H979.1" stroke="#0a0a0a" stroke-width="2.9" fill="none"/>
<path d="M1037.4 1148.7V1180.1M1031.9 1148.7H1042.9M1031.9 1180.1H1042.9" stroke="#0a0a0a" stroke-width="2.9" fill="none"/>
<path d="M1100.9 1145.0V1171.8M1095.4 1145.0H1106.4M1095.4 1171.8H1106.4" stroke="#0a0a0a" stroke-width="2.9" fill="none"/>
<path d="M1214.8 1032.6V1075.4M1209.3 1032.6H1220.3M1209.3 1075.4H1220.3" stroke="#0a0a0a" stroke-width="2.9" fill="none"/>
<path d="M1278.7 1154.9V1183.7M1273.2 1154.9H1284.2M1273.2 1183.7H1284.2" stroke="#0a0a0a" stroke-width="2.9" fill="none"/>
<path d="M1342.5 1141.1V1158.5M1337.0 1141.1H1348.0M1337.0 1158.5H1348.0" stroke="#0a0a0a" stroke-width="2.9" fill="none"/>
<path d="M908.20 851.70L908.20 1305.40" stroke="#1a1a1a" stroke-width="3.0" fill="none"/>
<path d="M906.70 1303.90L1410.70 1303.90" stroke="#1a1a1a" stroke-width="3.0" fill="none"/>
<path d="M908.20 1213.76L915.40 1213.76" stroke="#1a1a1a" stroke-width="3.0" fill="none"/>
<path d="M908.20 1123.62L915.40 1123.62" stroke="#1a1a1a" stroke-width="3.0" fill="none"/>
<path d="M908.20 1033.48L915.40 1033.48" stroke="#1a1a1a" stroke-width="3.0" fill="none"/>
<path d="M908.20 943.34L915.40 943.34" stroke="#1a1a1a" stroke-width="3.0" fill="none"/>
<path d="M908.20 853.20L915.40 853.20" stroke="#1a1a1a" stroke-width="3.0" fill="none"/>
<g opacity="0.999">
<text transform="translate(9.72,37.90) scale(1.0169,1)" font-size="34.88" fill="#222" font-weight="bold">A</text>
<text transform="translate(827.74,38.00) scale(0.9683,1)" font-size="34.88" fill="#222" font-weight="bold">B</text>
<text transform="translate(10.57,766.70) scale(0.9181,1)" font-size="35.32" fill="#222" font-weight="bold">C</text>
<text transform="translate(767.75,766.65) scale(0.9510,1)" font-size="35.32" fill="#222" font-weight="bold">D</text>
<text transform="translate(284.51,72.30) scale(0.9822,1)" font-size="43.31" fill="#1c1c1c">Response times</text>
<text transform="translate(1003.80,79.70) scale(0.9842,1)" font-size="43.31" fill="#1c1c1c">Response times</text>
<text transform="translate(303.80,799.70) scale(0.9842,1)" font-size="43.31" fill="#1c1c1c">Response times</text>
<text transform="translate(1008.11,800.40) scale(0.9835,1)" font-size="43.31" fill="#1c1c1c">Response times</text>
<text transform="translate(82.50,588.60) scale(0.9988,1)" font-size="37.85" fill="#414141">200</text>
<text transform="translate(83.55,460.54) scale(0.9818,1)" font-size="37.85" fill="#414141">400</text>
<text transform="translate(82.48,332.48) scale(0.9991,1)" font-size="37.85" fill="#414141">600</text>
<text transform="translate(82.76,204.42) scale(0.9945,1)" font-size="37.85" fill="#414141">800</text>
<text transform="translate(69.30,447.02) rotate(-90) scale(0.9415,1)" font-size="38.81" fill="#414141">Time (ms)</text>
<text transform="translate(188.62,610.50) scale(0.9499,1)" font-size="23.69" fill="#414141">IP</text>
<text transform="translate(271.15,610.50) scale(0.9394,1)" font-size="23.69" fill="#414141">IP</text>
<text transform="translate(354.05,610.50) scale(0.9394,1)" font-size="23.69" fill="#414141">IP</text>
<text transform="translate(462.15,610.50) scale(0.9394,1)" font-size="23.69" fill="#414141">IP</text>
<text transform="translate(545.33,610.50) scale(0.9446,1)" font-size="23.69" fill="#414141">IP</text>
<text transform="translate(631.95,610.50) scale(0.9394,1)" font-size="23.69" fill="#414141">IP</text>
<text transform="translate(219.90,610.50) scale(0.9762,1)" font-size="23.69" fill="#414141">OP</text>
<text transform="translate(302.80,610.50) scale(0.9762,1)" font-size="23.69" fill="#414141">OP</text>
<text transform="translate(389.09,610.50) scale(0.9856,1)" font-size="23.69" fill="#414141">OP</text>
<text transform="translate(493.10,610.50) scale(0.9762,1)" font-size="23.69" fill="#414141">OP</text>
<text transform="translate(577.10,610.50) scale(0.9825,1)" font-size="23.69" fill="#414141">OP</text>
<text transform="translate(663.00,610.50) scale(0.9825,1)" font-size="23.69" fill="#414141">OP</text>
<text transform="translate(184.60,650.40) scale(0.9570,1)" font-size="30.52" fill="#414141">Early</text>
<text transform="translate(267.81,650.40) scale(1.0746,1)" font-size="30.52" fill="#414141">Med</text>
<text transform="translate(353.94,650.40) scale(1.0244,1)" font-size="30.52" fill="#414141">Late</text>
<text transform="translate(458.09,650.40) scale(0.9615,1)" font-size="30.52" fill="#414141">Early</text>
<text transform="translate(547.81,650.40) scale(1.0746,1)" font-size="30.52" fill="#414141">Med</text>
<text transform="translate(630.82,650.40) scale(1.0316,1)" font-size="30.52" fill="#414141">Late</text>
<text transform="translate(226.06,697.30) scale(1.0296,1)" font-size="37.21" fill="#414141">Rhythmic</text>
<text transform="translate(499.32,697.30) scale(1.0526,1)" font-size="37.21" fill="#414141">Arhythmic</text>
<text transform="translate(896.78,586.90) scale(0.9861,1)" font-size="37.85" fill="#414141">300</text>
<text transform="translate(897.35,474.10) scale(0.9768,1)" font-size="37.85" fill="#414141">400</text>
<text transform="translate(896.70,361.30) scale(0.9873,1)" font-size="37.85" fill="#414141">500</text>
<text transform="translate(896.29,248.50) scale(0.9941,1)" font-size="37.85" fill="#414141">600</text>
<text transform="translate(896.27,135.70) scale(0.9944,1)" font-size="37.85" fill="#414141">700</text>
<text transform="translate(887.00,443.32) rotate(-90) scale(0.9438,1)" font-size="38.81" fill="#414141">Time (ms)</text>
<text transform="translate(1028.63,614.40) scale(0.8483,1)" font-size="31.54" fill="#414141">IP</text>
<text transform="translate(1204.92,614.40) scale(0.8523,1)" font-size="31.54" fill="#414141">IP</text>
<text transform="translate(1083.87,614.40) scale(0.8936,1)" font-size="31.54" fill="#414141">OP</text>
<text transform="translate(1260.26,614.40) scale(0.8959,1)" font-size="31.54" fill="#414141">OP</text>
<text transform="translate(1006.15,669.70) scale(1.0295,1)" font-size="37.35" fill="#414141">Rhythmic</text>
<text transform="translate(1179.72,669.70) scale(1.0455,1)" font-size="37.35" fill="#414141">Arhythmic</text>
<text transform="translate(115.07,1317.80) scale(0.9928,1)" font-size="37.85" fill="#414141">300</text>
<text transform="translate(115.65,1227.64) scale(0.9834,1)" font-size="37.85" fill="#414141">400</text>
<text transform="translate(114.99,1137.48) scale(0.9940,1)" font-size="37.85" fill="#414141">500</text>
<text transform="translate(114.58,1047.32) scale(1.0007,1)" font-size="37.85" fill="#414141">600</text>
<text transform="translate(114.56,957.16) scale(1.0011,1)" font-size="37.85" fill="#414141">700</text>
<text transform="translate(114.86,867.00) scale(0.9961,1)" font-size="37.85" fill="#414141">800</text>
<text transform="translate(102.00,1161.22) rotate(-90) scale(0.9421,1)" font-size="38.66" fill="#414141">Time (ms)</text>
<text transform="translate(217.23,1342.20) scale(0.9542,1)" font-size="30.23" fill="#414141">Early</text>
<text transform="translate(287.74,1342.20) scale(1.0720,1)" font-size="30.23" fill="#414141">Med</text>
<text transform="translate(355.06,1342.20) scale(1.0233,1)" font-size="30.23" fill="#414141">Late</text>
<text transform="translate(463.37,1342.20) scale(0.9376,1)" font-size="30.23" fill="#414141">Early</text>
<text transform="translate(534.16,1342.20) scale(1.0647,1)" font-size="30.23" fill="#414141">Med</text>
<text transform="translate(601.09,1342.20) scale(1.0124,1)" font-size="30.23" fill="#414141">Late</text>
<text transform="translate(235.84,1397.70) scale(1.0402,1)" font-size="37.06" fill="#414141">Rhythmic</text>
<text transform="translate(478.42,1397.70) scale(1.0537,1)" font-size="37.06" fill="#414141">Arhythmic</text>
<text transform="translate(834.47,1317.10) scale(0.9928,1)" font-size="37.85" fill="#414141">300</text>
<text transform="translate(835.05,1226.96) scale(0.9834,1)" font-size="37.85" fill="#414141">400</text>
<text transform="translate(834.39,1136.82) scale(0.9940,1)" font-size="37.85" fill="#414141">500</text>
<text transform="translate(833.98,1046.68) scale(1.0007,1)" font-size="37.85" fill="#414141">600</text>
<text transform="translate(833.96,956.54) scale(1.0011,1)" font-size="37.85" fill="#414141">700</text>
<text transform="translate(834.26,866.40) scale(0.9961,1)" font-size="37.85" fill="#414141">800</text>
<text transform="translate(821.40,1160.42) rotate(-90) scale(0.9463,1)" font-size="38.52" fill="#414141">Time (ms)</text>
<text transform="translate(936.71,1338.00) scale(0.9525,1)" font-size="30.52" fill="#414141">Early</text>
<text transform="translate(1007.35,1338.00) scale(1.0600,1)" font-size="30.52" fill="#414141">Med</text>
<text transform="translate(1073.53,1338.00) scale(1.0262,1)" font-size="30.52" fill="#414141">Late</text>
<text transform="translate(1182.44,1338.00) scale(0.9406,1)" font-size="30.52" fill="#414141">Early</text>
<text transform="translate(1253.04,1338.00) scale(1.0636,1)" font-size="30.52" fill="#414141">Med</text>
<text transform="translate(1319.58,1338.00) scale(1.0064,1)" font-size="30.52" fill="#414141">Late</text>
<text transform="translate(956.78,1392.90) scale(1.0077,1)" font-size="36.77" fill="#414141">In phase</text>
<text transform="translate(1187.25,1392.90) scale(1.0047,1)" font-size="36.77" fill="#414141">Off phase</text>
</g>
</svg>
</body></html>
